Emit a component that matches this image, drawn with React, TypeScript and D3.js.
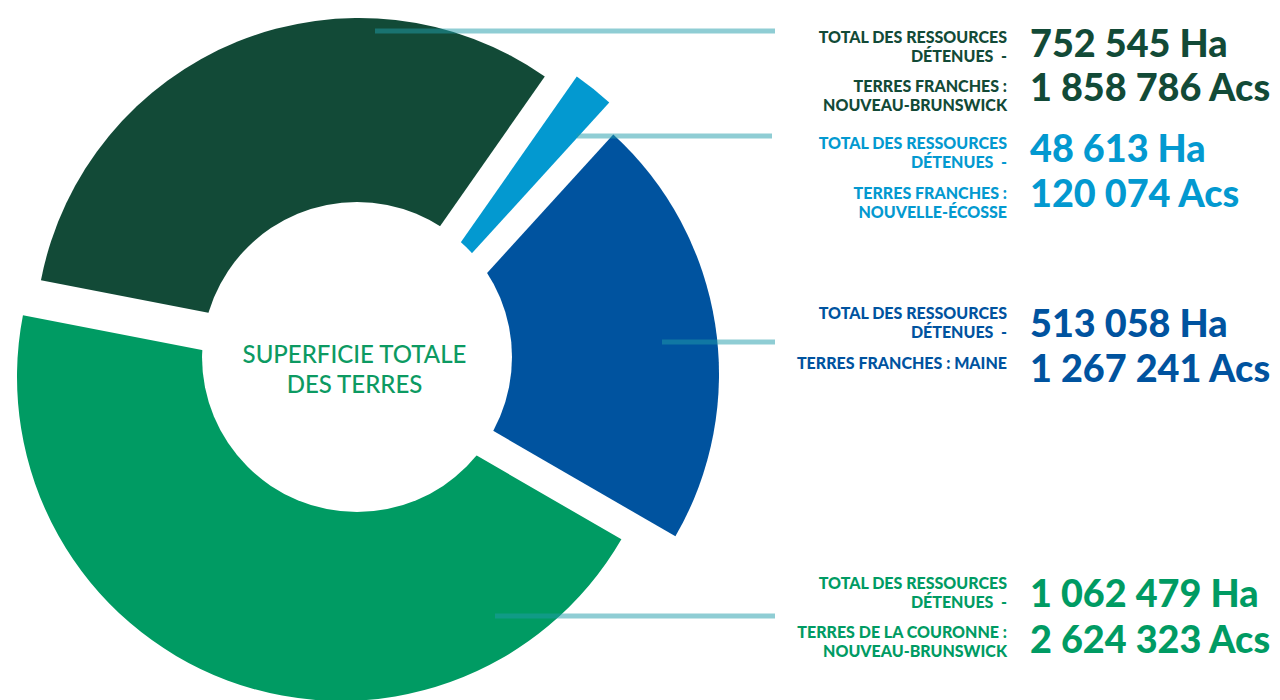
import React from "react";
import * as d3 from "d3";

// ---- data ----
const regions = ["NB-franches", "NE-franches", "Maine-franches", "NB-couronne"];
const hectares = [752545, 48613, 513058, 1062479];
const acres = [1858786, 120074, 1267241, 2624323];
const totalLabel = ["TOTAL DES RESSOURCES", "DÉTENUES  -"];
const regionLabels = [
  ["TERRES FRANCHES :", "NOUVEAU-BRUNSWICK"],
  ["TERRES FRANCHES :", "NOUVELLE-ÉCOSSE"],
  ["TERRES FRANCHES : MAINE"],
  ["TERRES DE LA COURONNE :", "NOUVEAU-BRUNSWICK"],
];
const centerTitle = ["SUPERFICIE TOTALE", "DES TERRES"];

// ---- style / layout ----
const colors = ["#124a37", "#0399d0", "#00539f", "#009b63"];
const sliceCenters = [
  [359, 342],
  [391, 342],
  [395, 374],
  [341, 377],
];
const outerR = 324;
const hole = { cx: 357, cy: 357, r: 155 };
const startDeg = -79;
const leaderLines = [
  { y: 31, x1: 375, x2: 775 },
  { y: 136, x1: 577, x2: 772 },
  { y: 342, x1: 662, x2: 775 },
  { y: 616, x1: 495, x2: 775 },
];
const textLayout = [
  { total: 43.3, region: 91.7, values: [56.7, 101] },
  { total: 149, region: 199, values: [161.7, 206.7] },
  { total: 319.3, region: 369, values: [337.3, 382.3] },
  { total: 589.3, region: 638.3, values: [607.3, 653.3] },
];
const labelX = 1007;
const valueX = 1030;
const lineGap = 18.8;

const locale = d3.formatLocale({
  decimal: ",",
  thousands: " ",
  grouping: [3],
  currency: ["", ""],
});
const fmt = locale.format(",d");

export default function App() {
  const start = (startDeg * Math.PI) / 180;
  const pie = d3
    .pie<number>()
    .sort(null)
    .value((d) => d)
    .startAngle(start)
    .endAngle(start + 2 * Math.PI);
  const arcs = pie(hectares);
  const arc = d3.arc<d3.PieArcDatum<number>>().innerRadius(0).outerRadius(outerR);
  const font = "Lato, 'Open Sans', sans-serif";

  return (
    <svg
      width={1280}
      height={700}
      style={{ position: "fixed", left: 0, top: 0, background: "#fff" }}
    >
      {arcs.map((a, i) => (
        <path
          key={regions[i]}
          d={arc(a) || ""}
          fill={colors[i]}
          transform={`translate(${sliceCenters[i][0]},${sliceCenters[i][1]})`}
        />
      ))}
      <circle cx={hole.cx} cy={hole.cy} r={hole.r} fill="#fff" />
      {leaderLines.map((l, i) => (
        <line
          key={i}
          x1={l.x1}
          x2={l.x2}
          y1={l.y}
          y2={l.y}
          stroke="rgb(31,155,169)"
          strokeOpacity={0.5}
          strokeWidth={5}
        />
      ))}
      <text
        x={354.5}
        textAnchor="middle"
        fill="#0c9a62"
        fontFamily={font}
        fontWeight={500}
        fontSize={24}
      >
        <tspan x={354.5} y={363.3}>{centerTitle[0]}</tspan>
        <tspan x={354.5} y={392.7}>{centerTitle[1]}</tspan>
      </text>
      {regions.map((r, i) => {
        const t = textLayout[i];
        return (
          <g key={r} fill={colors[i]} fontFamily={font}>
            <text
              textAnchor="end"
              fontWeight={900}
              fontSize={16}
              style={{ whiteSpace: "pre" }}
            >
              {totalLabel.map((s, k) => (
                <tspan key={k} x={labelX} y={t.total + k * lineGap}>
                  {s}
                </tspan>
              ))}
            </text>
            <text textAnchor="end" fontWeight={900} fontSize={16}>
              {regionLabels[i].map((s, k) => (
                <tspan key={k} x={labelX} y={t.region + k * lineGap}>
                  {s}
                </tspan>
              ))}
            </text>
            <text x={valueX} y={t.values[0]} fontWeight={900} fontSize={37.8}>
              {fmt(hectares[i]) + " Ha"}
            </text>
            <text x={valueX} y={t.values[1]} fontWeight={900} fontSize={37.8}>
              {fmt(acres[i]) + " Acs"}
            </text>
          </g>
        );
      })}
    </svg>
  );
}
